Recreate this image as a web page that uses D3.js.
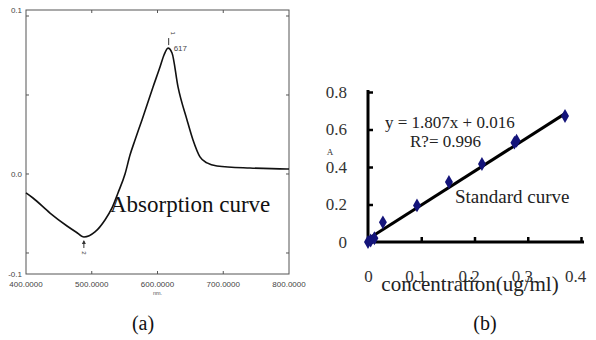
<!DOCTYPE html>
<html>
<head>
<meta charset="utf-8">
<script src="https://cdn.jsdelivr.net/npm/d3@7"></script>
<style>
  body { margin: 0; background: #fff; }
  svg { display: block; }
  .serif { font-family: "Liberation Serif", "Times New Roman", Times, serif; }
  .sans { font-family: "Liberation Sans", Arial, sans-serif; }
</style>
</head>
<body>
<div id="chart"></div>
<script>
// Absorption spectrum (panel a) - wavelength in nm, absorbance
const wavelength = [400, 410.6, 436.5, 462.4, 476, 488.2, 504.9, 520.1, 530.8, 539.9, 550.6, 558.2, 565.8, 576.4,
  593.2, 603.8, 609.9, 616, 622.1, 631.2, 644.9, 654, 664.6, 675.3, 690.5, 740.7, 797, 800];
const absorbance = [-0.012, -0.0152, -0.0247, -0.0329, -0.0367, -0.0399, -0.0367, -0.0291, -0.0215, -0.012, 0, 0.012, 0.0215, 0.0342,
  0.0551, 0.0677, 0.0753, 0.0797, 0.0766, 0.0551, 0.0342, 0.0215, 0.0108, 0.007, 0.0051, 0.0038, 0.0032, 0.0032];
const absXTicks = [400, 500, 600, 700, 800];
const absXLabels = ['400.0000', '500.0000', '600.0000', '700.0000', '800.0000'];
const absYTicks = [-0.05, 0, 0.05, 0.1];
const absYLabels = ['0.1', '0.0', '-0.1'];   // printed at top edge, zero, bottom edge

// Standard curve (panel b)
const concentration = [0, 0.005, 0.012, 0.028, 0.092, 0.152, 0.214, 0.275, 0.279, 0.37];
const absorbB = [0, 0.008, 0.02, 0.105, 0.195, 0.32, 0.416, 0.53, 0.54, 0.672];
const stdXTicks = [0, 0.1, 0.2, 0.3, 0.4];
const stdYTicks = [0, 0.2, 0.4, 0.6, 0.8];
const fitSlope = 1.807, fitIntercept = 0.016;

const svg = d3.select('#chart').append('svg')
  .attr('width', 596)
  .attr('height', 340);

// ---------- panel (a) ----------
const yMinA = -0.0633, yMaxA = 0.1038;
const xA = d3.scaleLinear().domain([400, 800]).range([26, 289]);
const yA = d3.scaleLinear().domain([yMinA, yMaxA]).range([274, 10]);
const gray = '#555';

const a = svg.append('g').attr('class', 'sans');

a.append('rect')
  .attr('x', xA(400)).attr('y', yA(yMaxA))
  .attr('width', xA(800) - xA(400)).attr('height', yA(yMinA) - yA(yMaxA))
  .attr('fill', 'none').attr('stroke', gray).attr('stroke-width', 1);

// inward ticks on all four sides
const innerX = absXTicks.slice(1, -1);
a.selectAll('.tt').data(innerX).enter().append('line')
  .attr('x1', d => xA(d)).attr('x2', d => xA(d))
  .attr('y1', yA(yMaxA)).attr('y2', yA(yMaxA) + 3)
  .attr('stroke', gray);
a.selectAll('.tb').data(innerX).enter().append('line')
  .attr('x1', d => xA(d)).attr('x2', d => xA(d))
  .attr('y1', yA(yMinA)).attr('y2', yA(yMinA) - 3)
  .attr('stroke', gray);
a.selectAll('.tl').data(absYTicks).enter().append('line')
  .attr('x1', xA(400)).attr('x2', xA(400) + 3)
  .attr('y1', d => yA(d)).attr('y2', d => yA(d))
  .attr('stroke', gray);
a.selectAll('.tr').data(absYTicks).enter().append('line')
  .attr('x1', xA(800)).attr('x2', xA(800) - 3)
  .attr('y1', d => yA(d)).attr('y2', d => yA(d))
  .attr('stroke', gray);

// tick labels
a.selectAll('.xl').data(absXTicks).enter().append('text')
  .attr('x', d => xA(d)).attr('y', yA(yMinA) + 13)
  .attr('text-anchor', 'middle').attr('font-size', 8).attr('fill', '#444')
  .text((d, i) => absXLabels[i]);
a.append('text')
  .attr('x', xA(600)).attr('y', yA(yMinA) + 21)
  .attr('text-anchor', 'middle').attr('font-size', 5.5).attr('fill', '#555')
  .text('nm.');
a.selectAll('.yl').data([yMaxA, 0, yMinA]).enter().append('text')
  .attr('x', 22).attr('y', d => yA(d) + 3)
  .attr('text-anchor', 'end').attr('font-size', 8).attr('fill', '#444')
  .text((d, i) => absYLabels[i]);

// spectrum
const spectrum = wavelength.map((w, i) => ({ x: w, y: absorbance[i] }));
a.append('path')
  .datum(spectrum)
  .attr('fill', 'none').attr('stroke', '#111').attr('stroke-width', 1.6)
  .attr('d', d3.line().x(d => xA(d.x)).y(d => yA(d.y)).curve(d3.curveMonotoneX));

// peak marker
const peakX = xA(617), peakY = yA(0.0797);
a.append('line')
  .attr('x1', peakX).attr('x2', peakX).attr('y1', peakY - 3).attr('y2', peakY - 10)
  .attr('stroke', '#333').attr('stroke-width', 1);
a.append('text')
  .attr('transform', `translate(${peakX + 2},${peakY - 15}) rotate(90)`)
  .attr('text-anchor', 'middle').attr('font-size', 6).attr('fill', '#333')
  .text('1');
a.append('text')
  .attr('x', peakX + 5).attr('y', peakY + 3)
  .attr('font-size', 8).attr('fill', '#444')
  .text('617');

// minimum marker
const minX = xA(488), minY = yA(-0.0399);
a.append('line')
  .attr('x1', minX).attr('x2', minX).attr('y1', minY + 4).attr('y2', minY + 11)
  .attr('stroke', '#333').attr('stroke-width', 1);
a.append('path')
  .attr('d', `M${minX - 2},${minY + 7}L${minX},${minY + 3}L${minX + 2},${minY + 7}Z`)
  .attr('fill', '#333');
a.append('text')
  .attr('transform', `translate(${minX - 2},${minY + 16}) rotate(90)`)
  .attr('text-anchor', 'middle').attr('font-size', 6).attr('fill', '#333')
  .text('2');

svg.append('text')
  .attr('class', 'serif')
  .attr('x', 110).attr('y', 212)
  .attr('font-size', 23).attr('fill', '#111')
  .text('Absorption curve');

// ---------- panel (b) ----------
const xB = d3.scaleLinear().domain([0, 0.4]).range([368, 581]);
const yB = d3.scaleLinear().domain([0, 0.8]).range([242, 92]);

const b = svg.append('g').attr('class', 'serif');

const xAxis = b.append('g')
  .attr('transform', `translate(0,${yB(0)})`)
  .call(d3.axisBottom(xB).tickValues(stdXTicks).tickSizeInner(-5).tickSizeOuter(0).tickPadding(28)
    .tickFormat(d => d === 0 ? '0' : d3.format('.1f')(d)));
xAxis.attr('font-family', null);
xAxis.select('.domain').remove();
xAxis.selectAll('line').attr('stroke', '#000').attr('stroke-width', 2.5);
xAxis.selectAll('text').attr('font-size', 17).attr('fill', '#333')
  .attr('dx', d => d === 0 ? 0 : -6);

const yAxis = b.append('g')
  .attr('transform', `translate(${xB(0)},0)`)
  .call(d3.axisLeft(yB).tickValues(stdYTicks).tickSizeInner(-5).tickSizeOuter(0).tickPadding(21)
    .tickFormat(d => d === 0 ? '0' : d3.format('.1f')(d)));
yAxis.attr('font-family', null);
yAxis.select('.domain').remove();
yAxis.selectAll('line').attr('stroke', '#000').attr('stroke-width', 2.5);
yAxis.selectAll('text').attr('font-size', 17).attr('fill', '#333');

// thick axis lines
b.append('line')
  .attr('x1', xB(0)).attr('x2', xB(0.4) + 3).attr('y1', yB(0)).attr('y2', yB(0))
  .attr('stroke', '#000').attr('stroke-width', 3);
b.append('line')
  .attr('x1', xB(0)).attr('x2', xB(0)).attr('y1', yB(0) + 1.5).attr('y2', yB(0.8) - 2)
  .attr('stroke', '#000').attr('stroke-width', 3);

// fitted line
const fitX = [0, 0.37];
b.append('line')
  .attr('x1', xB(fitX[0])).attr('y1', yB(fitSlope * fitX[0] + fitIntercept))
  .attr('x2', xB(fitX[1])).attr('y2', yB(fitSlope * fitX[1] + fitIntercept))
  .attr('stroke', '#000').attr('stroke-width', 3);

// data points
b.selectAll('.pt')
  .data(concentration.map((c, i) => ({ x: c, y: absorbB[i] })))
  .enter().append('path')
  .attr('class', 'pt')
  .attr('transform', d => `translate(${xB(d.x)},${yB(d.y)})`)
  .attr('d', d3.symbol(d3.symbolDiamond, 55))
  .attr('fill', '#14147a');

// texts
b.append('text').attr('x', 385).attr('y', 128)
  .attr('font-size', 17).attr('fill', '#222')
  .text('y = 1.807x + 0.016');
b.append('text').attr('x', 410).attr('y', 147)
  .attr('font-size', 17).attr('fill', '#222')
  .text('R?= 0.996');
b.append('text').attr('x', 330).attr('y', 155)
  .attr('text-anchor', 'middle')
  .attr('font-size', 9).attr('fill', '#333')
  .text('A');
b.append('text').attr('x', 455).attr('y', 203)
  .attr('font-size', 19).attr('fill', '#222')
  .text('Standard curve');
b.append('text').attr('x', 470).attr('y', 291)
  .attr('text-anchor', 'middle')
  .attr('font-size', 21).attr('fill', '#222')
  .text('concentration(ug/ml)');

// panel captions
svg.selectAll('.cap')
  .data([{ x: 143, t: '(a)' }, { x: 485, t: '(b)' }])
  .enter().append('text')
  .attr('class', 'serif')
  .attr('x', d => d.x).attr('y', 330)
  .attr('text-anchor', 'middle')
  .attr('font-size', 20).attr('fill', '#111')
  .text(d => d.t);
</script>
</body>
</html>
